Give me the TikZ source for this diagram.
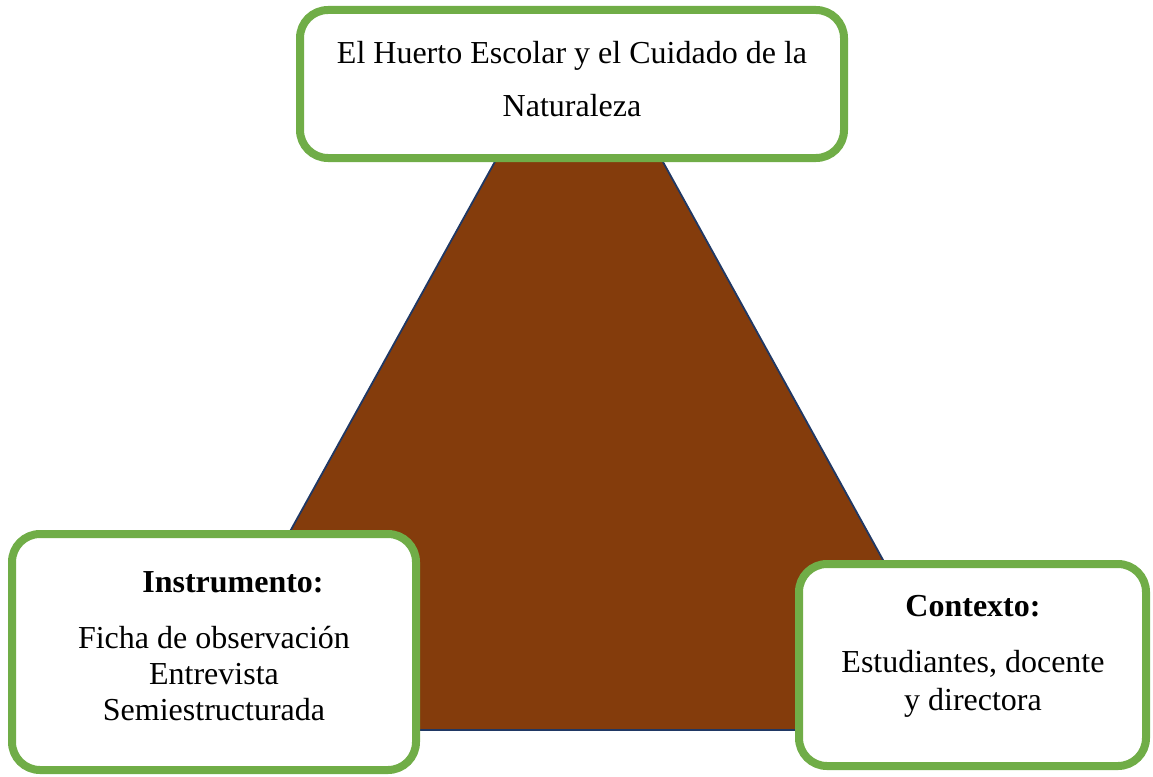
\documentclass[tikz,border=0pt]{standalone}
\usepackage{fontspec}
\setmainfont{Liberation Serif}
\usepackage{tikz}

\definecolor{soil}{HTML}{843C0C}
\definecolor{soiledge}{HTML}{203864}
\definecolor{leaf}{HTML}{70AD47}

\tikzset{
  box/.style={draw=leaf, line width=8pt, fill=white, rounded corners=28pt},
  txt/.style={font=\fontsize{32}{36}\selectfont, align=center, inner sep=0pt},
  head/.style={font=\fontsize{32}{36}\selectfont\bfseries, inner sep=0pt}
}

\begin{document}
\begin{tikzpicture}[x=1pt,y=-1pt]
    \useasboundingbox (0,0) rectangle (1153,776);
    \draw[fill=soil, draw=soiledge, line width=1.8pt, line join=round] (579,10) -- (180,730) -- (977,730) -- cycle;
    \node[box, minimum width=544pt, minimum height=148pt] (topbox) at (572,84) {};
    \node[txt, font=\fontsize{32}{53}\selectfont] (title) at (572,79) {El Huerto Escolar y el Cuidado de la\\Naturaleza};
    \node[box, minimum width=404pt, minimum height=236pt] (instbox) at (214,652) {};
    \node[head] (insthead) at (233,582) {Instrumento:};
    \node[txt] (instlist) at (214,674) {Ficha de observación\\Entrevista\\Semiestructurada};
    \node[box, minimum width=347pt, minimum height=202pt] (ctxbox) at (972.5,665) {};
    \node[head] (ctxhead) at (973,606) {Contexto:};
    \node[txt, font=\fontsize{32}{38}\selectfont] (ctxlist) at (973,684) {Estudiantes, docente\\y directora};
\end{tikzpicture}
\end{document}
